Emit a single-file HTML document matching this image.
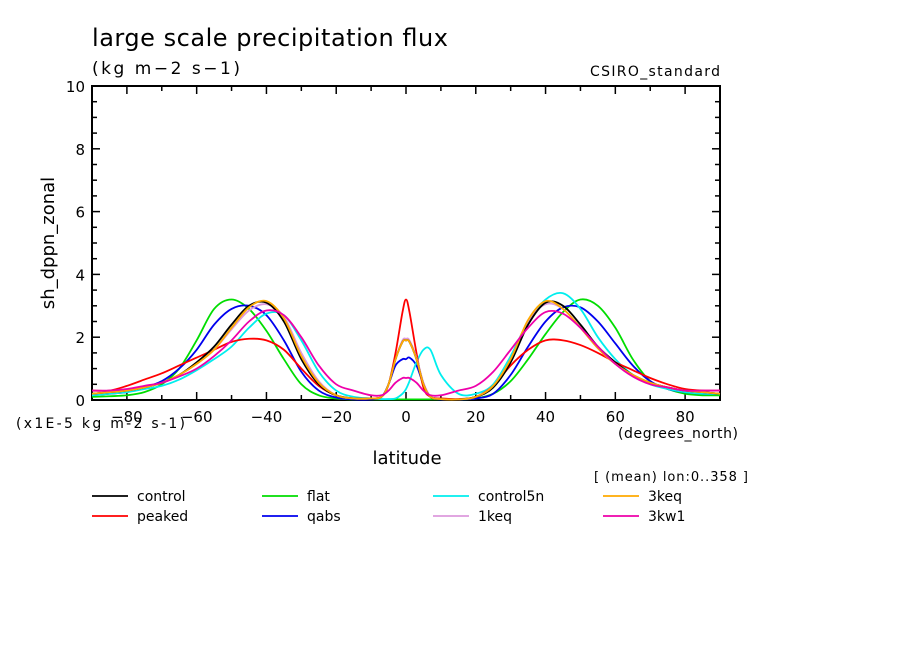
<!DOCTYPE html>
<html><head><meta charset="utf-8"><style>
body{margin:0;background:#fff;width:904px;height:654px;overflow:hidden}
svg text{font-family:"DejaVu Sans","Liberation Sans",sans-serif;fill:#000}
</style></head><body>
<svg id="chart" width="904" height="654" viewBox="0 0 904 654" xmlns="http://www.w3.org/2000/svg">
<text x="92" y="46" font-size="24" textLength="356" lengthAdjust="spacing">large scale precipitation flux</text>
<text x="92" y="74" font-size="17" textLength="148" lengthAdjust="spacing">(kg m−2 s−1)</text>
<text x="590" y="76" font-size="14" textLength="130" lengthAdjust="spacing">CSIRO_standard</text>
<text transform="translate(54,243) rotate(-90)" font-size="18" text-anchor="middle">sh_dppn_zonal</text>
<text x="16" y="428" font-size="14" textLength="169" lengthAdjust="spacing">(x1E-5 kg m-2 s-1)</text>
<text x="618" y="438" font-size="14" textLength="120" lengthAdjust="spacing">(degrees_north)</text>
<text x="407" y="464" font-size="18" text-anchor="middle">latitude</text>
<text x="594" y="481" font-size="13" textLength="154" lengthAdjust="spacing">[ (mean) lon:0..358 ]</text>
<g id="axes"></g>
<g id="series"></g>
<g id="legend"></g>
</svg>
<script>
const lats=[-90,-85,-80,-75,-70,-65,-60,-55,-50,-45,-40,-35,-30,-25,-20,-15,-10,-7,-5,-3,-1,0,1,3,5,7,10,15,20,25,30,35,40,45,50,55,60,65,70,75,80,85,90];
const control=[0.2,0.25,0.3,0.4,0.55,0.8,1.2,1.7,2.4,3.0,3.1,2.5,1.3,0.5,0.15,0.05,0.05,0.1,0.5,1.3,1.85,1.9,1.85,1.3,0.5,0.1,0.03,0.02,0.1,0.4,1.2,2.4,3.1,3.0,2.4,1.7,1.2,0.8,0.55,0.4,0.3,0.25,0.2];
const flat=[0.1,0.12,0.15,0.25,0.5,1.0,1.9,2.9,3.2,2.9,2.2,1.3,0.5,0.15,0.05,0.02,0.02,0.02,0.02,0.02,0.02,0.02,0.02,0.02,0.02,0.02,0.02,0.02,0.05,0.2,0.6,1.3,2.1,2.8,3.2,3.0,2.3,1.3,0.6,0.35,0.2,0.15,0.15];
const control5n=[0.15,0.2,0.25,0.35,0.45,0.65,0.95,1.3,1.7,2.3,2.75,2.7,1.9,0.9,0.3,0.1,0.05,0.03,0.03,0.05,0.2,0.35,0.6,1.2,1.6,1.6,0.8,0.2,0.2,0.5,1.4,2.5,3.2,3.4,2.9,2.0,1.3,0.8,0.5,0.35,0.25,0.2,0.2];
const keq3=[0.2,0.25,0.3,0.4,0.55,0.8,1.15,1.6,2.3,2.95,3.15,2.6,1.4,0.55,0.15,0.05,0.05,0.1,0.5,1.3,1.85,1.9,1.85,1.3,0.5,0.1,0.03,0.02,0.1,0.45,1.3,2.55,3.15,2.9,2.3,1.65,1.15,0.8,0.55,0.4,0.3,0.25,0.2];
const peaked=[0.3,0.3,0.45,0.65,0.85,1.1,1.35,1.6,1.85,1.95,1.9,1.6,1.0,0.45,0.15,0.05,0.05,0.1,0.5,1.5,2.8,3.2,2.8,1.5,0.4,0.1,0.05,0.03,0.1,0.45,1.1,1.6,1.9,1.9,1.75,1.5,1.2,0.95,0.7,0.5,0.35,0.3,0.3];
const qabs=[0.15,0.2,0.25,0.4,0.6,1.0,1.6,2.4,2.9,3.0,2.7,1.9,0.9,0.3,0.08,0.02,0.02,0.1,0.5,1.1,1.3,1.3,1.35,1.1,0.5,0.1,0.02,0.02,0.05,0.2,0.8,1.7,2.5,2.95,2.95,2.5,1.8,1.1,0.6,0.35,0.25,0.2,0.2];
const keq1=[0.2,0.25,0.3,0.4,0.55,0.8,1.15,1.6,2.25,2.85,3.05,2.65,1.5,0.6,0.15,0.05,0.05,0.1,0.5,1.3,1.9,1.95,1.9,1.35,0.55,0.12,0.03,0.02,0.1,0.45,1.3,2.5,3.05,2.9,2.3,1.65,1.15,0.8,0.55,0.4,0.3,0.25,0.2];
const kw1=[0.3,0.3,0.35,0.45,0.55,0.75,1.0,1.4,1.9,2.5,2.85,2.7,2.0,1.1,0.5,0.3,0.15,0.15,0.3,0.55,0.7,0.7,0.7,0.55,0.3,0.15,0.15,0.3,0.45,0.9,1.6,2.3,2.8,2.75,2.3,1.7,1.15,0.75,0.5,0.4,0.3,0.3,0.3];
const seriesNames=["control","peaked","flat","qabs","control5n","1keq","3keq","3kw1"];
const seriesColors=["#000000","#ff0000","#00dd00","#0000ee","#00eeee","#dd99dd","#ffaa00","#ee00aa"];
const seriesData=[control,peaked,flat,qabs,control5n,keq1,keq3,kw1];
const xTicks=[-80,-60,-40,-20,0,20,40,60,80];
const yTicks=[0,2,4,6,8,10];
const X0=92,X1=720,Y0=400,Y1=86;
const xs=v=>X0+(v+90)/180*(X1-X0);
const ys=v=>Y0-v/10*(Y0-Y1);
const NS="http://www.w3.org/2000/svg";
function mk(tag,attrs,parent){const e=document.createElementNS(NS,tag);for(const k in attrs)e.setAttribute(k,attrs[k]);parent.appendChild(e);return e;}
const axes=document.getElementById('axes');
const frame=mk('rect',{x:X0,y:Y1,width:X1-X0,height:Y0-Y1,fill:'none',stroke:'#000','stroke-width':2},axes);


for(let v=-90;v<=90;v+=10){const maj=v%20===0&&v!==-90&&v!==90;const L=maj?8:5;
 mk('line',{x1:xs(v),x2:xs(v),y1:Y0,y2:Y0-L,stroke:'#000','stroke-width':1.5},axes);
 mk('line',{x1:xs(v),x2:xs(v),y1:Y1,y2:Y1+L,stroke:'#000','stroke-width':1.5},axes);}
for(let v=0;v<=10;v+=0.5){const maj=v%2===0;const L=maj?8:5;
 mk('line',{x1:X0,x2:X0+L,y1:ys(v),y2:ys(v),stroke:'#000','stroke-width':1.5},axes);
 mk('line',{x1:X1,x2:X1-L,y1:ys(v),y2:ys(v),stroke:'#000','stroke-width':1.5},axes);}
xTicks.forEach(v=>{const t=mk('text',{x:xs(v),y:Y0+22,'font-size':15,'text-anchor':'middle'},axes);t.textContent=(v<0?'−':'')+Math.abs(v);
 
 });
yTicks.forEach(v=>{const t=mk('text',{x:X0-7,y:ys(v)+6,'font-size':15,'text-anchor':'end'},axes);t.textContent=v;
 
 });
function pathFor(arr){const p=lats.map((l,i)=>[xs(l),ys(arr[i])]);let d='M'+p[0][0]+','+p[0][1];
 for(let i=0;i<p.length-1;i++){const p0=p[i-1]||p[i],p1=p[i],p2=p[i+1],p3=p[i+2]||p2;const k=1/6;
  d+=' C'+(p1[0]+(p2[0]-p0[0])*k)+','+(p1[1]+(p2[1]-p0[1])*k)+' '+(p2[0]-(p3[0]-p1[0])*k)+','+(p2[1]-(p3[1]-p1[1])*k)+' '+p2[0]+','+p2[1];}
 return d;}
const sg=document.getElementById('series');
const order=[2,3,4,1,5,0,6,7];
order.forEach(i=>{const pth=mk('path',{d:pathFor(seriesData[i]),fill:'none',stroke:seriesColors[i],'stroke-width':1.8},sg);
 
 });
const lg=document.getElementById('legend');
const colX=[92,262,433,603],rowY=[496,516];
const legendOrder=[[0,2,4,6],[1,3,5,7]];
legendOrder.forEach((row,r)=>row.forEach((si,c)=>{const g=mk('g',{},lg);
 
 
 mk('line',{x1:colX[c],x2:colX[c]+36,y1:rowY[r],y2:rowY[r],stroke:seriesColors[si],'stroke-width':1.8},g);
 const t=mk('text',{x:colX[c]+45,y:rowY[r]+5,'font-size':14},g);t.textContent=seriesNames[si];}));
</script>
</body></html>
